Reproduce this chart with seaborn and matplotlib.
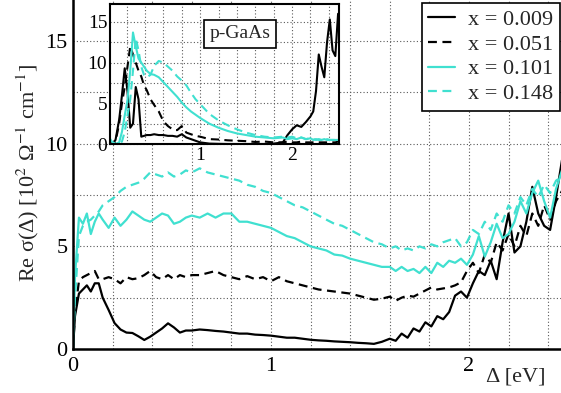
import matplotlib
matplotlib.use("Agg")
import matplotlib.pyplot as plt
import seaborn as sns
import pandas as pd
from matplotlib.ticker import MultipleLocator, FixedLocator

# ---------------- data ----------------
x_main = [0.00, 0.01, 0.03, 0.05, 0.07, 0.09, 0.11, 0.13, 0.15,
          0.18, 0.21, 0.24, 0.27, 0.30, 0.33, 0.36, 0.39, 0.42, 0.45, 0.48, 0.51, 0.54, 0.57, 0.60,
          0.64, 0.68, 0.72, 0.76, 0.80, 0.84, 0.88, 0.92, 0.96, 1.00, 1.04, 1.08, 1.12, 1.16, 1.20,
          1.24, 1.28, 1.32, 1.36, 1.40, 1.44, 1.48, 1.52, 1.56, 1.60,
          1.63, 1.66, 1.69, 1.72, 1.75, 1.78, 1.81, 1.84, 1.87, 1.90, 1.93, 1.96, 1.99, 2.02, 2.05,
          2.08, 2.11, 2.14, 2.17, 2.20, 2.23, 2.26, 2.29, 2.32, 2.35, 2.38, 2.41, 2.44, 2.47, 2.50]

s009 = [0, 1.6, 2.7, 2.9, 3.1, 2.8, 3.2, 3.2, 2.5,
        1.9, 1.26, 0.95, 0.8, 0.78, 0.62, 0.44, 0.6, 0.8, 1.0, 1.25, 1.05, 0.8, 0.9, 0.9,
        0.95, 0.92, 0.88, 0.85, 0.8, 0.75, 0.75, 0.7, 0.68, 0.65, 0.6, 0.55, 0.55, 0.5, 0.45,
        0.42, 0.4, 0.37, 0.35, 0.33, 0.3, 0.28, 0.25, 0.35, 0.5,
        0.4, 0.75, 0.55, 1.0, 0.85, 1.3, 1.1, 1.6, 1.45, 1.8, 2.6, 2.8, 2.5, 3.2, 3.8,
        3.6, 4.3, 3.4, 5.2, 6.6, 4.7, 5.0, 6.2, 7.9, 6.6, 6.0, 5.8, 7.4, 9.2, 9.6]

s051 = [0, 1.8, 3.3, 3.5, 3.6, 3.7, 3.8, 3.4, 3.4,
        3.5, 3.4, 3.2, 3.5, 3.4, 3.45, 3.6, 3.8, 3.5, 3.4, 3.6, 3.4, 3.6, 3.5, 3.6,
        3.6, 3.7, 3.8, 3.6, 3.5, 3.4, 3.55, 3.4, 3.5, 3.3, 3.5, 3.3, 3.2, 3.1, 3.0,
        2.9, 2.85, 2.8, 2.75, 2.7, 2.6, 2.5, 2.4, 2.45, 2.55,
        2.35, 2.5, 2.6, 2.55, 2.7, 2.85, 3.0, 2.9, 2.95, 3.0, 3.1, 3.25, 3.8, 4.2, 3.7,
        4.6, 4.2, 5.2, 4.8, 5.6, 5.0, 6.0, 5.5, 6.6, 6.0, 7.0, 6.3, 7.2, 7.7, 8.1]

s101 = [0, 3.5, 6.4, 6.1, 6.6, 5.6, 6.2, 6.6, 6.3,
        5.9, 6.4, 6.0, 6.3, 6.7, 6.5, 6.3, 6.2, 6.4, 6.6, 6.5, 6.1, 6.2, 6.4, 6.5,
        6.4, 6.6, 6.4, 6.6, 6.6, 6.2, 6.2, 6.1, 6.0, 5.9, 5.7, 5.5, 5.4, 5.2, 5.0,
        4.9, 4.8, 4.6, 4.55, 4.4, 4.3, 4.2, 4.1, 4.0, 4.0,
        3.8, 4.0, 3.8, 3.9, 3.7, 4.0, 3.7, 4.2, 4.0, 4.3, 4.2, 4.4, 4.1, 4.6, 5.5,
        4.5, 5.2, 6.1, 5.4, 5.6, 6.2, 7.2, 6.6, 7.6, 8.2, 7.2, 6.4, 7.8, 8.7, 9.0]

s148 = [0, 2.5, 5.5, 6.0, 6.2, 6.3, 6.5, 6.7, 7.0,
        7.2, 7.4, 7.7, 7.9, 8.0, 8.1, 8.3, 8.6, 8.5, 8.4, 8.6, 8.4, 8.5, 8.7, 8.6,
        8.8, 8.6, 8.5, 8.4, 8.3, 8.2, 8.0, 7.9, 7.7, 7.6, 7.4, 7.2, 7.0, 6.9, 6.7,
        6.5, 6.3, 6.1, 6.0, 5.8, 5.6, 5.4, 5.2, 5.1, 4.9,
        5.0, 4.8, 4.9, 4.8, 5.0, 4.9, 5.1, 5.0, 5.2, 5.3, 5.4, 5.0, 5.2, 5.8, 5.6,
        6.2, 5.8, 6.6, 6.2, 7.0, 6.6, 7.4, 7.0, 7.8, 7.4, 8.0, 7.6, 8.2, 8.4, 8.6]

x_inset = [0.00, 0.04, 0.08, 0.12,
           0.15, 0.18, 0.21, 0.24, 0.27, 0.30, 0.33, 0.36, 0.39, 0.42,
           0.46, 0.50,
           0.55, 0.60, 0.65, 0.70, 0.75, 0.80, 0.85, 0.90, 0.95, 1.00,
           1.10, 1.20, 1.30, 1.40, 1.50, 1.60, 1.70, 1.80, 1.90,
           1.95, 2.00, 2.05, 2.10, 2.15, 2.20,
           2.23, 2.26, 2.29, 2.32, 2.35, 2.38, 2.41, 2.44, 2.47, 2.50]

i009 = [0.3, 0.0, 0.5, 3.0,
        6.0, 9.3, 6.5, 2.0, 2.5, 7.0, 5.5, 0.9, 1.0, 1.1,
        1.1, 1.2,
        1.1, 1.1, 1.0, 1.0, 0.9, 1.2, 0.8, 0.6, 0.4, 0.2,
        0.05, 0.02, 0.0, 0.0, 0.0, 0.0, 0.0, 0.05, 0.2,
        1.1, 1.8, 2.3, 2.1, 2.7, 3.4,
        4.0, 6.5, 11.0, 9.5, 8.2, 12.5, 15.3, 11.5, 10.8, 16.0]

i051 = [0.2, 0.0, 0.3, 2.5,
        5.0, 7.0, 9.5, 12.0, 11.0, 10.0, 9.0, 8.3, 7.2, 6.6,
        5.5, 4.8,
        4.0, 2.8, 2.2, 1.8, 1.7, 2.2, 1.4, 1.2, 1.0, 0.9,
        0.6, 0.55, 0.45, 0.4, 0.35, 0.25, 0.3, 0.2, 0.2,
        0.3, 0.2, 0.2, 0.3, 0.2, 0.2,
        0.2, 0.2, 0.2, 0.2, 0.2, 0.2, 0.2, 0.2, 0.2, 0.3]

i101 = [1.0, 0.3, 0.0, 0.2,
        1.5, 3.5, 5.4, 9.0, 13.7, 12.0, 10.5, 10.0, 9.5, 9.0,
        8.6, 8.5,
        8.2, 7.6, 7.0, 6.4, 5.8, 5.1, 4.5, 4.0, 3.6, 3.2,
        2.5, 2.0, 1.6, 1.3, 1.1, 0.9, 0.8, 0.7, 0.8,
        0.6, 0.7, 0.6, 0.8, 0.6, 0.7,
        0.5, 0.6, 0.5, 0.5, 0.6, 0.5, 0.5, 0.5, 0.5, 0.5]

i148 = [0.0, 0.0, 0.0, 0.0,
        0.3, 1.5, 3.5, 5.5, 9.0, 13.0, 11.5, 9.5, 8.5, 8.2,
        8.5, 9.6,
        10.2, 10.0, 9.5, 9.0, 8.3, 7.8, 7.2, 6.3, 5.5, 4.9,
        3.7, 2.9, 2.3, 1.8, 1.4, 1.1, 0.9, 0.8, 0.9,
        0.8, 0.9, 0.7, 0.8, 0.6, 0.7,
        0.6, 0.5, 0.6, 0.5, 0.5, 0.6, 0.5, 0.5, 0.5, 0.5]

labels = ["x = 0.009", "x = 0.051", "x = 0.101", "x = 0.148"]
x_ticks_main = [0, 1, 2]
y_ticks_main = [0, 5, 10, 15]
x_ticks_inset = [1, 2]
y_ticks_inset = [0, 5, 10, 15]

# ---------------- style ----------------
sns.set_theme(style="white")
plt.rcParams["font.family"] = ["Liberation Serif", "DejaVu Serif"]
plt.rcParams["mathtext.fontset"] = "stix"

CYAN = "#40E0D0"
colors = ["black", "black", CYAN, CYAN]
styles = ["-", (0, (4, 2.5)), "-", (0, (4, 2.5))]

W, H = 561, 393
fig = plt.figure(figsize=(W / 100, H / 100), dpi=100)
fig.patch.set_facecolor("white")

ax = fig.add_axes([73 / W, (H - 349) / H, 488 / W, 349 / H])
main_df = pd.DataFrame({"x": x_main, "a": s009, "b": s051, "c": s101, "d": s148})
for col, lab, c, ls in zip(["a", "b", "c", "d"], labels, colors, styles):
    sns.lineplot(data=main_df, x="x", y=col, ax=ax, color=c, linestyle=ls,
                 lw=1.6, label=lab, estimator=None, sort=False)

ax.set_xlim(0, 2.465)
ax.set_ylim(0, 17)
ax.set_xlabel("")
ax.set_ylabel("")
ax.xaxis.set_major_locator(FixedLocator(x_ticks_main))
ax.yaxis.set_major_locator(FixedLocator(y_ticks_main))
ax.xaxis.set_minor_locator(MultipleLocator(0.2))
ax.yaxis.set_minor_locator(MultipleLocator(2.5))
ax.grid(which="both", linestyle=(0, (1, 2)), color="0.35", lw=0.8)
ax.set_axisbelow(True)
ax.tick_params(which="both", direction="in", length=0, labelsize=16, colors="black")
ax.tick_params(axis="x", pad=6)
ax.tick_params(axis="y", pad=4)
for s in ["top", "right"]:
    ax.spines[s].set_visible(False)
for s in ["left", "bottom"]:
    ax.spines[s].set_color("black")
    ax.spines[s].set_linewidth(1.8)

leg = ax.legend(loc="upper right", bbox_to_anchor=(560 / W, 1 - 3 / H),
                bbox_transform=fig.transFigure, frameon=True, fancybox=False,
                edgecolor="black", framealpha=1, borderaxespad=0, fontsize=16,
                handlelength=1.2, handletextpad=0.6, labelspacing=0.18, borderpad=0.3)
leg.get_frame().set_linewidth(1.2)

fig.text(28 / W, 1 - 173 / H, r"Re σ(Δ) [10$^2$ Ω$^{-1}$ cm$^{-1}$]", rotation=90,
         ha="center", va="center", fontsize=16)
fig.text(516 / W, 1 - 377 / H, "Δ [eV]", ha="center", va="center", fontsize=16)

# ---------------- inset ----------------
axi = fig.add_axes([110 / W, (H - 144) / H, 229 / W, 140 / H])
axi.set_facecolor("white")
inset_df = pd.DataFrame({"x": x_inset, "a": i009, "b": i051, "c": i101, "d": i148})
for col, c, ls in zip(["a", "b", "c", "d"], colors, styles):
    sns.lineplot(data=inset_df, x="x", y=col, ax=axi, color=c, linestyle=ls,
                 lw=1.5, estimator=None, sort=False, legend=False)
axi.set_xlim(0.02, 2.51)
axi.set_ylim(0, 17.2)
axi.set_xlabel("")
axi.set_ylabel("")
axi.xaxis.set_major_locator(FixedLocator(x_ticks_inset))
axi.yaxis.set_major_locator(FixedLocator(y_ticks_inset))
axi.xaxis.set_minor_locator(MultipleLocator(0.2))
axi.yaxis.set_minor_locator(MultipleLocator(2.5))
axi.grid(which="both", linestyle=(0, (1, 2)), color="0.35", lw=0.8)
axi.set_axisbelow(True)
axi.tick_params(which="both", direction="in", length=0, labelsize=14, colors="black")
axi.tick_params(axis="x", pad=2)
axi.tick_params(axis="y", pad=2)
for s in axi.spines.values():
    s.set_visible(True)
    s.set_color("black")
    s.set_linewidth(1.5)

fig.text(240 / W, 1 - 34 / H, "p-GaAs", ha="center", va="center", fontsize=14,
         bbox=dict(boxstyle="square,pad=0.3", facecolor="white", edgecolor="black", lw=1.2))

fig.savefig("out.png", dpi=100)
